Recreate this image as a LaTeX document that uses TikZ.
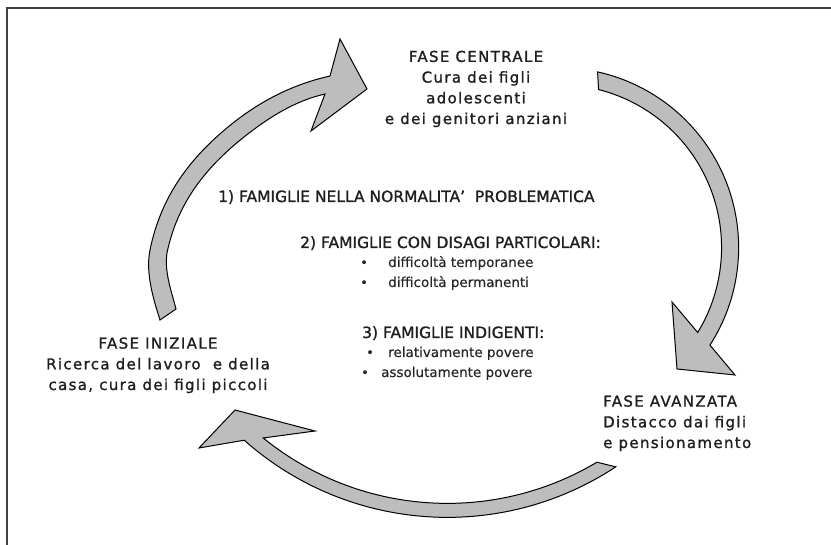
\documentclass[tikz,border=0pt]{standalone}
\usepackage{fontspec}
\setmainfont{DejaVu Sans}
\newfontfamily\headfont[LetterSpace=9,FakeBold=1.3]{DejaVu Sans}
\newfontfamily\listheadfont[FakeBold=1.2]{DejaVu Sans}
\newfontfamily\listfont[FakeBold=0.3]{DejaVu Sans}
\begin{document}
\begin{tikzpicture}[x=1pt,y=-1pt,
  arrowshape/.style={fill=black!26, draw=black, line width=1pt, line join=miter},
  phase/.style={font=\headfont\fontsize{15}{20.7}\selectfont, text=black!88, inner sep=0pt},
  listhead/.style={font=\listheadfont\fontsize{15.5}{20}\selectfont, text=black!88, inner sep=0pt, anchor=base west},
  listitem/.style={font=\listfont\fontsize{13.5}{18}\selectfont, text=black!85, inner sep=0pt, anchor=base west},
  dot/.style={font=\listfont\fontsize{13}{15}\selectfont, text=black!85, inner sep=0pt, anchor=base west}]
\useasboundingbox (0,0) rectangle (831,545);
\draw[black!75, line width=1.3pt] (7,545) -- (7,8) -- (831,8);

% arrow 1: from FASE INIZIALE up to FASE CENTRALE
\draw[arrowshape] (160,320) .. controls (153.1,298.2) and (145.4,272.5) .. (150,250)
  .. controls (161,196) and (190.1,157.1) .. (233,123)
  .. controls (261.9,100.1) and (293.9,84.1) .. (330,76)
  -- (340,39) -- (367,89) -- (311,131) -- (325,94)
  .. controls (294.8,100.8) and (268.2,117.8) .. (244,137)
  .. controls (205,168) and (177,204) .. (167,253)
  .. controls (164.2,271.8) and (171.3,290.6) .. (176,309)
  -- cycle;

% arrow 2: from FASE CENTRALE down to FASE AVANZATA
\draw[arrowshape] (597.6,71.9) arc[start angle=-77.5, end angle=32.8, radius=180]
  -- (735,375) -- (677,369) -- (672,302) -- (697.7,332.5)
  arc[start angle=31.4, end angle=-75.8, radius=163]
  -- cycle;

% arrow 3: from FASE AVANZATA back to FASE INIZIALE
\draw[arrowshape] (596.9,462.2) arc[start angle=59.2, end angle=129.1, radius=292]
  -- (315,431) -- (235,410) -- (199,448) -- (244.2,440.2)
  arc[start angle=131.6, end angle=56.6, radius=306]
  -- cycle;

% phases (anchor base = baseline of last line)
\node[phase, align=center, anchor=base] (cen) at (476,124) {FASE CENTRALE\\Cura dei figli\\adolescenti\\e dei genitori anziani};
\node[phase, align=center, anchor=base] (ini) at (158,390) {FASE INIZIALE\\Ricerca del lavoro\ \ e della\\casa, cura dei figli piccoli};
\node[phase, align=left, anchor=base west] (ava) at (603,448) {FASE AVANZATA\\Distacco dai figli\\e pensionamento};

% central list
\node[listhead] (l1) at (218,202) {1) FAMIGLIE NELLA NORMALITA’\ \ PROBLEMATICA};
\node[listhead] (l2) at (300,248) {2) FAMIGLIE CON DISAGI PARTICOLARI:};
\node[dot] (d1) at (360,267) {•};
\node[listitem] (t1) at (388,267) {difficoltà temporanee};
\node[dot] (d2) at (360,287) {•};
\node[listitem] (t2) at (388,287) {difficoltà permanenti};
\node[listhead] (l3) at (362,338) {3) FAMIGLIE INDIGENTI:};
\node[dot] (d3) at (366,357) {•};
\node[listitem] (t3) at (388,357) {relativamente povere};
\node[dot] (d4) at (361,377) {•};
\node[listitem] (t4) at (381,377) {assolutamente povere};
\end{tikzpicture}
\end{document}
